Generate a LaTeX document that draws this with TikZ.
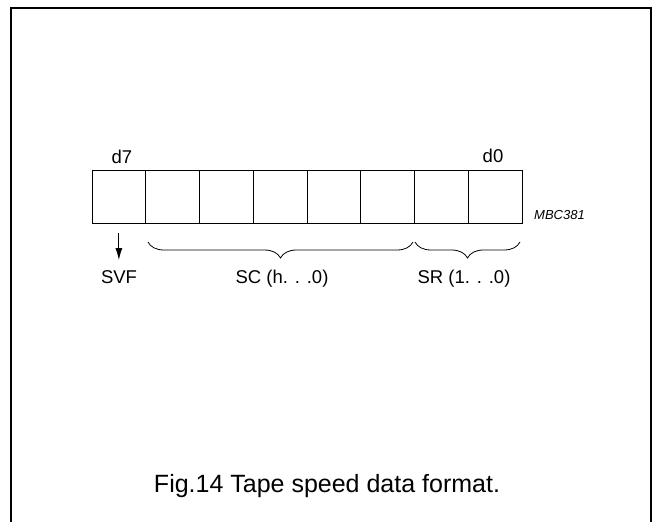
\documentclass[tikz,border=0pt]{standalone}
\usepackage{fontspec}
\setmainfont{Liberation Sans}
\usetikzlibrary{decorations.pathreplacing,arrows.meta}
\begin{document}
\begin{tikzpicture}[x=1pt,y=-1pt,
  cell/.style={draw,line width=0.9pt,minimum width=53.75pt,minimum height=53pt,inner sep=0pt,outer sep=0pt},
  lbl/.style={font=\fontsize{18.5}{20}\selectfont,inner sep=0pt,anchor=base},
  brc/.style={draw,line width=0.8pt,decorate,decoration={brace,mirror,amplitude=16pt,aspect=0.5}},
  frame/.style={line width=1.6pt}]
\useasboundingbox (0,0) rectangle (653,522);
\draw[frame] (11,522) -- (11,8) -- (651,8) -- (651,522);
\foreach \i [evaluate=\i as \x using {92+53.75*(7-\i+0.5)}] in {7,...,0}
  \node[cell] (b\i) at (\x,196.5) {};
\node[lbl] (d7) at (122,163) {d7};
\node[lbl] (d0) at (493,162) {d0};
\node[font=\fontsize{13}{14}\selectfont\itshape,inner sep=0pt,anchor=base west] (mbc) at (534,219) {MBC381};
\coordinate (as) at ([yshift=-10pt]b7.south);
\coordinate (ae) at ([yshift=-37pt]b7.south);
\draw[line width=0.9pt,-{Latex[length=12pt,width=7pt]}] (as) -- (ae);
\node[lbl] (svf) at (119,283) {SVF};
\coordinate (sc1) at (148,242);
\coordinate (sc2) at (413,242);
\coordinate (sr1) at (415,242);
\coordinate (sr2) at (520,242);
\draw[brc] (sc1) -- (sc2);
\draw[brc] (sr1) -- (sr2);
\node[lbl] (sc) at (282,283) {SC (h. . .0)};
\node[lbl] (sr) at (464,283) {SR (1. . .0)};
\node[font=\fontsize{25}{28}\selectfont,inner sep=0pt,anchor=base] (cap) at (327,492) {Fig.14 Tape speed data format.};
\end{tikzpicture}
\end{document}
